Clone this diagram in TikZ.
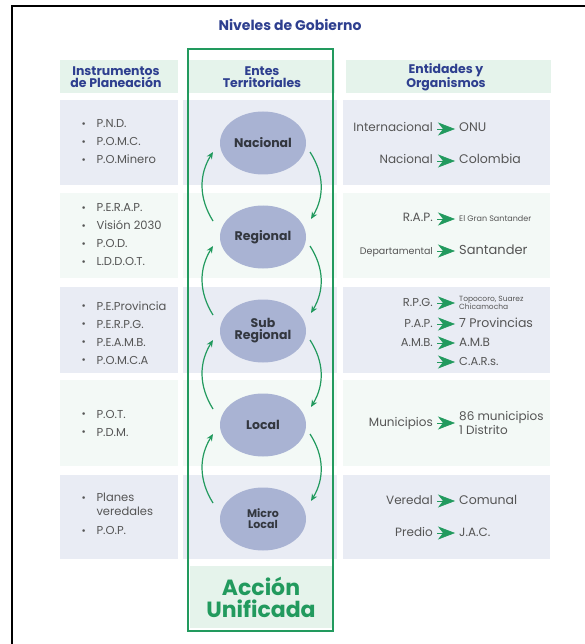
\documentclass[tikz,border=0pt]{standalone}
\usepackage{fontspec}
\setmainfont{Poppins}
\usetikzlibrary{arrows.meta,shapes.geometric,positioning}
\definecolor{azulT}{HTML}{2E3F8F}
\definecolor{verdeA}{HTML}{229A5E}
\definecolor{grisT}{HTML}{555555}
\definecolor{oscuroT}{HTML}{33373F}
\definecolor{elipseF}{HTML}{A9B3D3}
\definecolor{filaA}{HTML}{E9ECF4}
\definecolor{filaB}{HTML}{F3F9F6}
\definecolor{cabeza}{HTML}{E5F3EB}
\newcommand{\fs}[2]{\fontsize{#1}{#2}\selectfont}
\newcommand{\blt}{\makebox[15pt][l]{\raisebox{0.5pt}{\scalebox{0.9}{\textbullet}}}}

\begin{document}
\begin{tikzpicture}[x=1pt,y=1pt,node distance=94pt]
    \tikzstyle{nivel}=[ellipse,fill=elipseF,minimum width=86pt,minimum height=63pt,inner sep=0pt,align=center,text=oscuroT,font=\bfseries\fs{12.5}{12}]
    \tikzstyle{cabecera}=[align=center,text=azulT,font=\bfseries\fs{12.5}{12.5}]
    \tikzstyle{lista}=[anchor=west,align=left,text=grisT,font=\fs{11.5}{18}]
    \tikzstyle{ente}=[anchor=east,inner sep=0pt,text height=8.5pt,text depth=2.5pt,text=grisT,font=\fs{12}{12}]
    \tikzstyle{valor}=[anchor=west,inner sep=0pt,text height=8.5pt,text depth=2.5pt,text=grisT,font=\fs{12.5}{12}]
    \tikzstyle{valordos}=[anchor=west,inner sep=0pt,align=left,text=grisT]
    \tikzstyle{flecha}=[-{Stealth[length=17pt,width=13pt,inset=5pt]},verdeA,line width=.6pt,shorten <=4pt,shorten >=4pt]
    \tikzstyle{ciclo}=[-{Stealth[length=7pt,width=6pt]},verdeA,line width=1.2pt]

    \useasboundingbox (0,0) rectangle (584,-644);
    \draw[line width=2.4pt] (12,-650) -- (12,-6) -- (590,-6);

    % fondos
    \fill[cabeza] (60,-60) rectangle (178,-93);
    \fill[cabeza] (187,-60) rectangle (335,-93);
    \fill[cabeza] (346,-60) rectangle (551,-93);
    \foreach \ya/\yb/\col in {100/185/filaA,193/278/filaB,287/373/filaA,380/466/filaB,475/559/filaA}{
        \fill[\col] (60,-\ya) rectangle (178,-\yb);
        \fill[\col] (183,-\ya) rectangle (337,-\yb);
        \fill[\col] (343,-\ya) rectangle (550,-\yb);
    }
    \fill[cabeza] (190,-566) rectangle (332,-628);
    \draw[verdeA,line width=2pt] (188,-49) rectangle (333,-631);

    \node[font=\bfseries\fs{14}{14},text=azulT] (titulo) at (290,-25) {Niveles de Gobierno};
    \node[cabecera] (instr) at (116,-77) {Instrumentos\\de Planeación};
    \node[cabecera] (entes) at (262,-77) {Entes\\Territoriales};
    \node[cabecera] (entid) at (446,-77) {Entidades y\\Organismos};

    % instrumentos
    \node[lista] (pnd)  at (78,-142) {\blt P.N.D.\\\blt P.O.M.C.\\\blt P.O.Minero};
    \node[lista] (perap) at (78,-235) {\blt P.E.R.A.P.\\\blt Visión 2030\\\blt P.O.D.\\\blt L.D.D.O.T.};
    \node[lista] (pep)  at (78,-333) {\blt P.E.Provincia\\\blt P.E.R.P.G.\\\blt P.E.A.M.B.\\\blt P.O.M.C.A};
    \node[lista] (pot)  at (78,-423) {\blt P.O.T.\\\blt P.D.M.};
    \node[lista,font=\fs{11.5}{14}] (planes) at (78,-514) {\blt Planes\\\hspace*{15pt}veredales\\[5pt]\blt P.O.P.};

    % entes territoriales
    \node[nivel]    (nac)   at (263,-143)       {Nacional};
    \node[nivel]    (reg)   [below of=nac]      {Regional};
    \node[nivel]    (sub)   [below of=reg]      {Sub\\Regional};
    \node[nivel]    (loc)   [below of=sub]      {Local};
    \node[nivel,font=\bfseries\fs{11}{11}] (mic) [below of=loc] {Micro\\Local};
    \foreach \a/\b in {nac/reg,reg/sub,sub/loc,loc/mic}{
        \draw[ciclo] ([shift={(-50,16)}]\b.center) to[bend left=32] ([shift={(-50,-9)}]\a.center);
        \draw[ciclo] ([shift={(47,-9)}]\a.center) to[bend left=32] ([shift={(48,18)}]\b.center);
    }

    \node[align=center,text=verdeA,font=\bfseries\fs{22}{22}] (accion) at (261,-597) {Acción\\Unificada};

    % entidades
    \node[ente]  (inter) at (433,-129) {Internacional};
    \node[valor] (onu)   at (459,-129) {ONU};
    \node[ente]  (nal)   at (433,-161) {Nacional};
    \node[valor] (col)   at (459,-161) {Colombia};
    \node[ente]  (rap)   at (433,-219) {R.A.P.};
    \node[valor,font=\fs{8}{8}] (gran) at (459,-219) {El Gran Santander};
    \node[ente,font=\fs{9.5}{10}] (dep) at (433,-251) {Departamental};
    \node[valor,font=\fs{13}{12}] (san) at (459,-251) {Santander};
    \node[ente,font=\fs{11.5}{11}] (rpg) at (433,-303) {R.P.G.};
    \node[valordos,font=\fs{7.5}{8.5}] (topo) at (459,-303) {Topocoro, Suarez\\Chicamocha};
    \node[ente,font=\fs{11.5}{11}] (pap) at (433,-324) {P.A.P.};
    \node[valor] (prov)  at (459,-324) {7 Provincias};
    \node[ente,font=\fs{11.5}{11}] (amb) at (433,-343) {A.M.B.};
    \node[valor,font=\fs{12}{11}] (amb2) at (459,-343) {A.M.B};
    \coordinate (cars0) at (433,-362);
    \node[valor,font=\fs{11.5}{11}] (cars) at (459,-362) {C.A.R.s.};
    \node[ente]  (mun)   at (433,-423) {Municipios};
    \node[valordos,font=\fs{12}{14}] (ochenta) at (459,-423) {86 municipios\\1 Distrito};
    \node[ente]  (ver)   at (433,-501) {Veredal};
    \node[valor] (com)   at (459,-501) {Comunal};
    \node[ente]  (pred)  at (433,-533) {Predio};
    \node[valor,font=\fs{12}{11}] (jac) at (459,-533) {J.A.C.};
    \path
        (inter.east) edge[flecha] (onu.west)
        (nal.east)   edge[flecha] (col.west)
        (rap.east)   edge[flecha] (gran.west)
        (dep.east)   edge[flecha] (san.west)
        (rpg.east)   edge[flecha] (topo.west)
        (pap.east)   edge[flecha] (prov.west)
        (amb.east)   edge[flecha] (amb2.west)
        (cars0)      edge[flecha] (cars.west)
        (mun.east)   edge[flecha] (ochenta.west)
        (ver.east)   edge[flecha] (com.west)
        (pred.east)  edge[flecha] (jac.west);
\end{tikzpicture}
\end{document}
